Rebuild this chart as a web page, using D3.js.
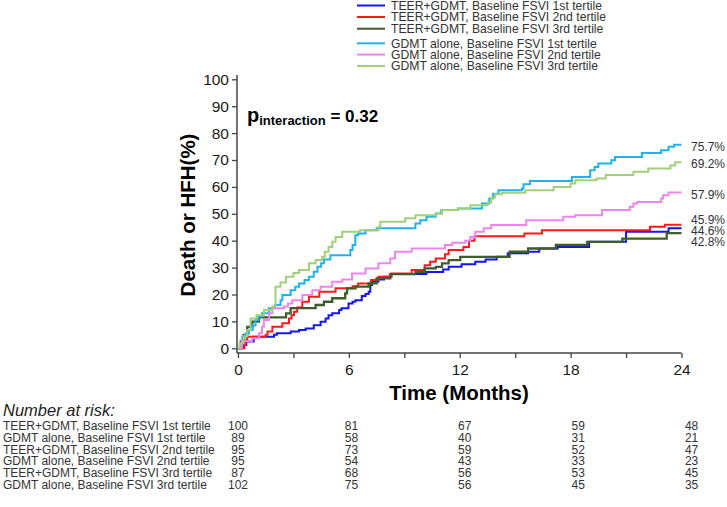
<!DOCTYPE html>
<html><head><meta charset="utf-8">
<script src="https://cdn.jsdelivr.net/npm/d3@7"></script>
<style>
html,body{margin:0;padding:0;background:#fff;}
svg{display:block;font-family:"Liberation Sans",Arial,sans-serif;}
</style></head>
<body><svg id="chart" width="727" height="507"></svg>
<script>
// ---- data ----
const seriesNames = [
  "TEER+GDMT, Baseline FSVI 1st tertile",
  "TEER+GDMT, Baseline FSVI 2nd tertile",
  "TEER+GDMT, Baseline FSVI 3rd tertile",
  "GDMT alone, Baseline FSVI 1st tertile",
  "GDMT alone, Baseline FSVI 2nd tertile",
  "GDMT alone, Baseline FSVI 3rd tertile"
];
const seriesColors = ["#1515ee", "#ff1a1a", "#3e5c2c", "#1fb3ee", "#ee85ee", "#a2cf7c"];

// step points: [month, percent]
const teer1 = [[0,0],[0.3,1.2],[0.45,2.5],[0.85,4.3],[1.95,5.0],[2.1,5.6],[2.85,6.2],[3.3,6.8],[3.66,7.4],[4.1,8.6],[4.47,9.9],[4.74,11.1],[4.9,12.3],[5.1,13.0],[5.47,14.2],[5.6,14.9],[5.98,16.7],[6.2,17.3],[6.35,17.9],[6.7,19.4],[6.9,20.2],[7.07,21.0],[7.16,23.5],[7.25,24.7],[7.6,25.6],[7.9,26.6],[8.3,27.6],[10.2,28.4],[11.1,29.3],[11.4,30.3],[12.1,31.2],[12.84,32.2],[13.4,33.0],[14.0,34.0],[14.6,35.3],[15.7,35.9],[16.3,37.1],[17.3,37.7],[19.0,39.6],[21.0,43.3],[23.3,44.6]];
const teer2 = [[0,0],[0.35,1.5],[0.4,3.0],[0.5,4.3],[1.5,5.0],[1.6,6.2],[1.86,8.0],[2.4,9.3],[2.76,11.1],[2.9,12.3],[3.03,13.6],[3.2,15.2],[3.48,17.3],[3.84,19.2],[4.4,21.0],[5.28,22.3],[6.2,23.1],[6.5,24.1],[7.2,25.4],[7.6,26.6],[8.3,27.8],[9.4,29.1],[10.1,30.9],[10.4,32.2],[10.7,33.4],[11.2,35.0],[11.4,36.5],[12.2,37.7],[12.5,40.0],[12.8,41.7],[15.5,42.7],[16.45,43.9],[22.3,45.2],[23.1,45.9]];
const teer3 = [[0,0],[0.15,2.6],[0.3,4.9],[0.5,8.0],[0.77,9.9],[1.14,11.5],[2.6,13.0],[2.85,14.9],[4.2,16.1],[4.65,17.3],[5.1,18.6],[5.8,20.4],[5.9,22.3],[6.36,22.9],[7.07,24.1],[7.5,26.0],[8.24,27.6],[9.6,28.4],[10.1,29.7],[10.7,30.3],[11.04,31.6],[11.4,32.8],[12.03,34.0],[14.7,35.9],[15.7,37.1],[17.2,38.4],[18.9,39.6],[20.8,40.8],[23.2,42.8]];
const gdmt1 = [[0,0],[0.1,1.2],[0.23,4.3],[0.4,5.5],[0.6,6.8],[0.8,8.5],[0.95,10.5],[1.1,11.8],[1.3,13.0],[1.68,14.9],[2.0,16.1],[2.3,17.9],[2.4,19.8],[2.85,21.6],[3.1,22.9],[3.3,24.1],[3.6,25.4],[3.84,26.6],[4.1,28.5],[4.3,30.3],[4.5,31.6],[4.65,33.0],[5.0,34.6],[6.08,36.5],[6.2,38.4],[6.35,42.0],[6.5,42.7],[6.9,43.9],[7.5,44.6],[9.6,46.4],[9.86,47.6],[10.2,48.9],[10.7,50.1],[11.0,51.4],[11.9,52.0],[13.2,53.8],[13.6,55.7],[13.8,57.5],[14.1,58.8],[15.37,59.4],[15.45,61.0],[15.8,62.2],[18.07,63.7],[19.06,66.2],[19.3,67.4],[19.5,68.7],[20.2,69.9],[20.4,71.1],[21.86,72.6],[22.9,73.6],[23.3,74.9],[23.6,75.7]];
const gdmt2 = [[0,0],[0.2,2.6],[0.77,3.7],[1.14,5.6],[1.3,8.0],[1.4,10.5],[1.68,13.0],[1.86,14.9],[2.5,15.5],[2.7,16.7],[2.94,17.9],[3.48,19.8],[4.02,21.6],[4.47,22.9],[5.1,24.7],[5.64,25.6],[6.17,27.8],[6.9,29.7],[7.6,31.6],[8.24,33.4],[8.5,35.9],[9.4,37.1],[11.2,38.4],[11.6,39.2],[12.3,40.0],[12.57,41.4],[12.84,43.3],[13.3,44.6],[13.7,45.8],[15.6,47.6],[17.6,48.9],[18.25,49.5],[19.7,51.4],[21.2,52.6],[21.4,53.8],[21.6,54.4],[22.9,55.7],[23.0,56.9],[23.3,57.9]];
const gdmt3 = [[0,0],[0.1,1.9],[0.3,4.5],[0.5,6.8],[0.68,11.1],[1.0,12.3],[1.4,14.2],[1.86,15.5],[2.03,22.9],[2.3,24.5],[2.6,26.6],[3.0,28.0],[3.3,29.1],[3.84,31.6],[4.2,32.8],[4.56,34.0],[4.7,35.9],[4.9,37.7],[5.1,39.6],[5.28,41.4],[5.64,43.3],[6.6,43.9],[7.6,45.2],[7.7,47.0],[9.05,48.3],[9.6,49.5],[10.7,50.1],[11.04,51.4],[11.9,52.0],[12.57,53.2],[13.5,54.2],[13.7,56.0],[13.9,57.3],[14.28,57.8],[15.55,58.8],[17.08,60.0],[18.0,61.3],[18.25,62.5],[19.4,63.1],[19.9,64.4],[21.4,65.6],[22.2,66.8],[23.4,68.0],[23.66,69.2]];
const finalLabels = ["44.6%", "45.9%", "42.8%", "75.7%", "57.9%", "69.2%"];

const xTicks = [0, 3, 6, 9, 12, 15, 18, 21, 24];
const yTicks = [0, 10, 20, 30, 40, 50, 60, 70, 80, 90, 100];

const riskTimes = [0, 6, 12, 18, 24];
const riskRowNames = [
  "TEER+GDMT, Baseline FSVI 1st tertile",
  "GDMT alone, Baseline FSVI 1st tertile",
  "TEER+GDMT, Baseline FSVI 2nd tertile",
  "GDMT alone, Baseline FSVI 2nd tertile",
  "TEER+GDMT, Baseline FSVI 3rd tertile",
  "GDMT alone, Baseline FSVI 3rd tertile"
];
const riskTeer1 = [100, 81, 67, 59, 48];
const riskGdmt1 = [89, 58, 40, 31, 21];
const riskTeer2 = [95, 73, 59, 52, 47];
const riskGdmt2 = [95, 54, 43, 33, 23];
const riskTeer3 = [87, 68, 56, 53, 45];
const riskGdmt3 = [102, 75, 56, 45, 35];

// ---- drawing ----
const svg = d3.select("#chart");
const x = d3.scaleLinear().domain([0, 24]).range([238, 681.5]);
const y = d3.scaleLinear().domain([0, 100]).range([348.3, 79.3]);
const axisColor = "#444";
const textColor = "#1a1a1a";

const allSeries = [teer1, teer2, teer3, gdmt1, gdmt2, gdmt3];

// axes
const xAxisY = 353;
const gx = svg.append("g").attr("transform", `translate(0,${xAxisY})`)
  .call(d3.axisBottom(x).tickValues(xTicks).tickSize(5).tickSizeOuter(0).tickPadding(6)
    .tickFormat(d => d % 6 === 0 ? d : ""));
gx.select(".domain").remove();
gx.selectAll(".tick line").attr("stroke", axisColor).attr("stroke-width", 1.3);
gx.selectAll("text").attr("font-size", 15.5).attr("fill", textColor).attr("font-family", "Liberation Sans, Arial, sans-serif");
svg.append("line").attr("x1", 237).attr("x2", x(24)).attr("y1", xAxisY).attr("y2", xAxisY)
  .attr("stroke", axisColor).attr("stroke-width", 1.5);

const gy = svg.append("g").attr("transform", "translate(237,0)")
  .call(d3.axisLeft(y).tickValues(yTicks).tickSize(5).tickSizeOuter(0).tickPadding(3));
gy.select(".domain").remove();
gy.selectAll(".tick line").attr("stroke", axisColor).attr("stroke-width", 1.3);
gy.selectAll("text").attr("font-size", 15.5).attr("fill", textColor).attr("font-family", "Liberation Sans, Arial, sans-serif");
svg.append("line").attr("x1", 237).attr("x2", 237).attr("y1", 75).attr("y2", xAxisY)
  .attr("stroke", axisColor).attr("stroke-width", 1.5);

// axis titles
svg.append("text").attr("transform", "translate(195,215) rotate(-90)")
  .attr("text-anchor", "middle").attr("font-weight", "bold").attr("font-size", 20.5)
  .attr("fill", "#000").text("Death or HFH(%)");
svg.append("text").attr("x", 459).attr("y", 400)
  .attr("text-anchor", "middle").attr("font-weight", "bold").attr("font-size", 20.5)
  .attr("fill", "#000").text("Time (Months)");

// p interaction
const pt = svg.append("text").attr("x", 247).attr("y", 122).attr("font-weight", "bold").attr("fill", "#000");
pt.append("tspan").attr("font-size", 20).text("p");
pt.append("tspan").attr("font-size", 13).attr("dy", 3).text("interaction");
pt.append("tspan").attr("font-size", 17).attr("dy", -3).text(" = 0.32");

// curves
const line = d3.line().x(d => x(d[0])).y(d => y(d[1])).curve(d3.curveStepAfter);
allSeries.forEach((s, i) => {
  const pts = s.concat([[24, s[s.length - 1][1]]]);
  svg.append("path").datum(pts).attr("d", line)
    .attr("fill", "none").attr("stroke", seriesColors[i])
    .attr("stroke-width", i === 2 ? 2.3 : 2).attr("stroke-linejoin", "miter");
});

// end labels with simple collision avoidance
const labs = allSeries.map((s, i) => ({ i, v: s[s.length - 1][1], yy: y(s[s.length - 1][1]) + 2 }));
labs.sort((a, b) => a.yy - b.yy);
for (let iter = 0; iter < 50; iter++) {
  for (let k = 1; k < labs.length; k++) {
    const gap = labs[k].yy - labs[k - 1].yy;
    if (gap < 10.6) {
      const d = (10.6 - gap) / 2;
      labs[k].yy += d; labs[k - 1].yy -= d;
    }
  }
}
labs.forEach(l => {
  svg.append("text").attr("x", 691).attr("y", l.yy).attr("dy", "0.35em")
    .attr("font-size", 12).attr("fill", "#333").text(finalLabels[l.i]);
});

// legend
const legRows = [5.5, 17, 28.7, 43.3, 54.6, 66];
seriesNames.forEach((n, i) => {
  svg.append("line").attr("x1", 357).attr("x2", 385).attr("y1", legRows[i]).attr("y2", legRows[i])
    .attr("stroke", seriesColors[i]).attr("stroke-width", 2);
  svg.append("text").attr("x", 391).attr("y", legRows[i]).attr("dy", "0.36em")
    .attr("font-size", 12.2).attr("fill", "#333").text(n);
});

// number at risk
svg.append("text").attr("x", 3).attr("y", 416).attr("font-style", "italic")
  .attr("font-size", 16.5).attr("fill", "#222").text("Number at risk:");
const riskRows = [riskTeer1, riskGdmt1, riskTeer2, riskGdmt2, riskTeer3, riskGdmt3];
riskRows.forEach((row, r) => {
  const yy = 430.3 + r * 11.7;
  svg.append("text").attr("x", 3).attr("y", yy).attr("font-size", 12).attr("fill", "#333").text(riskRowNames[r]);
  row.forEach((v, c) => {
    svg.append("text").attr("x", x(riskTimes[c]) + riskTimes[c] * 0.42).attr("y", yy)
      .attr("text-anchor", "middle").attr("font-size", 12).attr("fill", "#333").text(v);
  });
});
</script>
</body></html>
